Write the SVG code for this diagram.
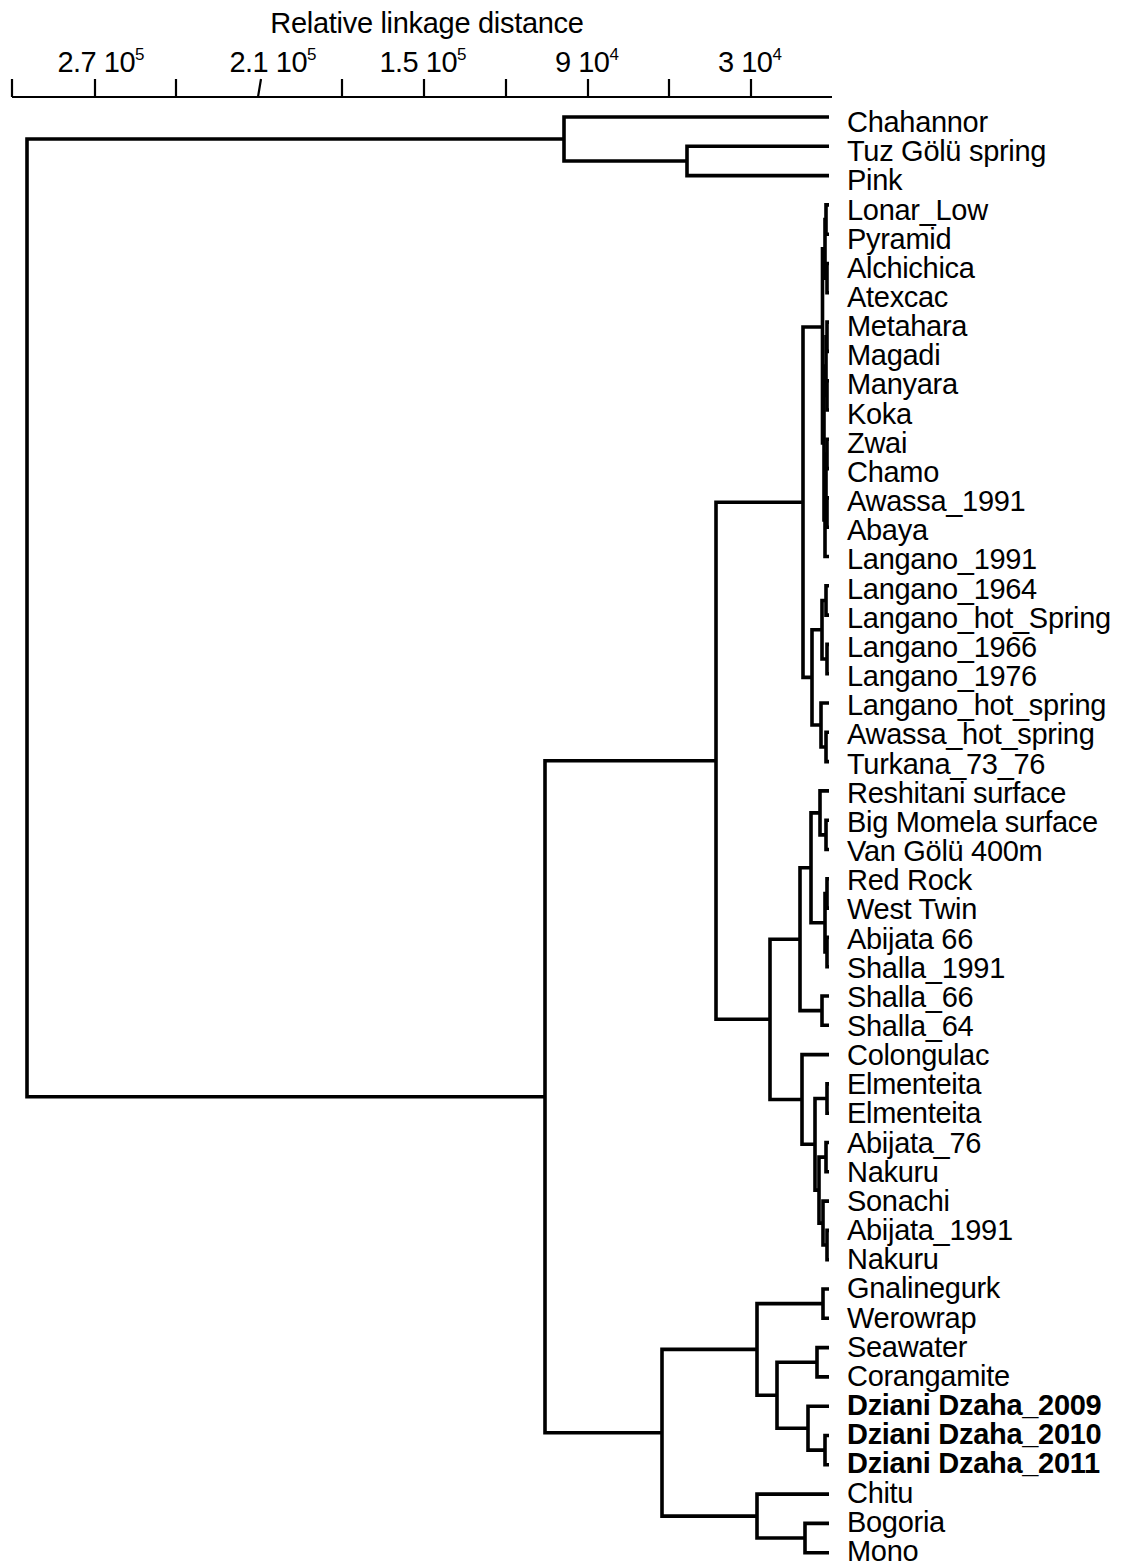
<svg xmlns="http://www.w3.org/2000/svg" width="1131" height="1564" viewBox="0 0 1131 1564">
<style>
text{font-family:"Liberation Sans",Arial,Helvetica,sans-serif;fill:#000}
.lab{font-size:29px;letter-spacing:-0.3px}
.b{font-weight:bold}
.tk{font-size:29px;letter-spacing:-0.5px;text-anchor:middle}
.sup{font-size:17px;letter-spacing:0}
.c path{fill:none;stroke:#000;stroke-width:3.6;stroke-linejoin:miter}
.ax{fill:none;stroke:#000;stroke-width:2.2}
</style>
<rect width="1131" height="1564" fill="#fff"/>
<g id="axis">
<text class="lab" x="427" y="33" text-anchor="middle">Relative linkage distance</text>
<path class="ax" d="M12 97 H832 M12 79 V97 M95 79 V97 M176 79 V97 M261 79 L258 97 M342 79 V97 M424 79 V97 M506 79 V97 M588 79 V97 M669 79 V97 M751 79 V97"/>
<text class="tk" x="101" y="72">2.7 10<tspan class="sup" dy="-12">5</tspan></text>
<text class="tk" x="273" y="72">2.1 10<tspan class="sup" dy="-12">5</tspan></text>
<text class="tk" x="423" y="72">1.5 10<tspan class="sup" dy="-12">5</tspan></text>
<text class="tk" x="587" y="72">9 10<tspan class="sup" dy="-12">4</tspan></text>
<text class="tk" x="750" y="72">3 10<tspan class="sup" dy="-12">4</tspan></text>
</g>
<g id="connectors" class="c">
<path d="M829 146.3 H687 V175.6 H829"/>
<path d="M829 117 H564 V160.95 H687"/>
<path d="M564 139 H27 V1096.75 H545"/>
<path d="M716 760.75 H545 V1432.75 H662"/>
<path d="M803 502.2 H716 V1019.3 H770"/>
<path d="M822.5 327 H803 V677.4 H812"/>
<path d="M825 248.85 H822.5 V442.96 H824"/>
<path d="M826 219.55 H825 V278.15 H827"/>
<path d="M829 204.9 H826 V234.2 H829"/>
<path d="M829 263.5 H827 V292.8 H829"/>
<path d="M826 366.05 H824 V519.875 H825"/>
<path d="M827 336.75 H826 V395.35 H827"/>
<path d="M829 322.1 H827 V351.4 H829"/>
<path d="M829 380.7 H827 V410 H829"/>
<path d="M826 483.25 H825 V556.5 H829"/>
<path d="M827 453.95 H826 V512.55 H827"/>
<path d="M829 439.3 H827 V468.6 H829"/>
<path d="M829 497.9 H827 V527.2 H829"/>
<path d="M822 629.75 H812 V724.98 H821"/>
<path d="M826 600.45 H822 V659.05 H827"/>
<path d="M829 585.8 H826 V615.1 H829"/>
<path d="M829 644.4 H827 V673.7 H829"/>
<path d="M829 703 H821 V746.95 H826"/>
<path d="M829 732.3 H826 V761.6 H829"/>
<path d="M800 939.2 H770 V1099.45 H802"/>
<path d="M811 867.8 H800 V1010.65 H822"/>
<path d="M820 812.9 H811 V922.75 H825"/>
<path d="M829 790.9 H820 V834.85 H826"/>
<path d="M829 820.2 H826 V849.5 H829"/>
<path d="M827 893.45 H825 V952.05 H827"/>
<path d="M829 878.8 H827 V908.1 H829"/>
<path d="M829 937.4 H827 V966.7 H829"/>
<path d="M829 996 H822 V1025.3 H829"/>
<path d="M829 1054.6 H802 V1144.3 H815"/>
<path d="M827 1098.55 H815 V1190.1 H819"/>
<path d="M829 1083.9 H827 V1113.2 H829"/>
<path d="M826 1157.15 H819 V1223.08 H823"/>
<path d="M829 1142.5 H826 V1171.8 H829"/>
<path d="M829 1201.1 H823 V1245.05 H827"/>
<path d="M829 1230.4 H827 V1259.7 H829"/>
<path d="M757 1349.4 H662 V1516.1 H757"/>
<path d="M823 1303.65 H757 V1395.2 H777"/>
<path d="M829 1289 H823 V1318.3 H829"/>
<path d="M817 1362.25 H777 V1428.2 H808"/>
<path d="M829 1347.6 H817 V1376.9 H829"/>
<path d="M829 1406.2 H808 V1450.15 H825"/>
<path d="M829 1435.5 H825 V1464.8 H829"/>
<path d="M829 1494.1 H757 V1538.05 H805"/>
<path d="M829 1523.4 H805 V1552.7 H829"/>
</g>
<g id="leaf-chahannor"><text class="lab" x="847" y="132">Chahannor</text></g>
<g id="leaf-tuz-golu-spring"><text class="lab" x="847" y="161.2">Tuz Gölü spring</text></g>
<g id="leaf-pink"><text class="lab" x="847" y="190.3">Pink</text></g>
<g id="leaf-lonar-low"><text class="lab" x="847" y="219.5">Lonar_Low</text></g>
<g id="leaf-pyramid"><text class="lab" x="847" y="248.6">Pyramid</text></g>
<g id="leaf-alchichica"><text class="lab" x="847" y="277.8">Alchichica</text></g>
<g id="leaf-atexcac"><text class="lab" x="847" y="307">Atexcac</text></g>
<g id="leaf-metahara"><text class="lab" x="847" y="336.1">Metahara</text></g>
<g id="leaf-magadi"><text class="lab" x="847" y="365.3">Magadi</text></g>
<g id="leaf-manyara"><text class="lab" x="847" y="394.4">Manyara</text></g>
<g id="leaf-koka"><text class="lab" x="847" y="423.6">Koka</text></g>
<g id="leaf-zwai"><text class="lab" x="847" y="452.8">Zwai</text></g>
<g id="leaf-chamo"><text class="lab" x="847" y="481.9">Chamo</text></g>
<g id="leaf-awassa-1991"><text class="lab" x="847" y="511.1">Awassa_1991</text></g>
<g id="leaf-abaya"><text class="lab" x="847" y="540.2">Abaya</text></g>
<g id="leaf-langano-1991"><text class="lab" x="847" y="569.4">Langano_1991</text></g>
<g id="leaf-langano-1964"><text class="lab" x="847" y="598.6">Langano_1964</text></g>
<g id="leaf-langano-hot-spring-1"><text class="lab" x="847" y="627.7">Langano_hot_Spring</text></g>
<g id="leaf-langano-1966"><text class="lab" x="847" y="656.9">Langano_1966</text></g>
<g id="leaf-langano-1976"><text class="lab" x="847" y="686">Langano_1976</text></g>
<g id="leaf-langano-hot-spring-2"><text class="lab" x="847" y="715.2">Langano_hot_spring</text></g>
<g id="leaf-awassa-hot-spring"><text class="lab" x="847" y="744.4">Awassa_hot_spring</text></g>
<g id="leaf-turkana"><text class="lab" x="847" y="773.5">Turkana_73_76</text></g>
<g id="leaf-reshitani"><text class="lab" x="847" y="802.7">Reshitani surface</text></g>
<g id="leaf-big-momela"><text class="lab" x="847" y="831.8">Big Momela surface</text></g>
<g id="leaf-van-golu"><text class="lab" x="847" y="861">Van Gölü 400m</text></g>
<g id="leaf-red-rock"><text class="lab" x="847" y="890.2">Red Rock</text></g>
<g id="leaf-west-twin"><text class="lab" x="847" y="919.3">West Twin</text></g>
<g id="leaf-abijata-66"><text class="lab" x="847" y="948.5">Abijata 66</text></g>
<g id="leaf-shalla-1991"><text class="lab" x="847" y="977.6">Shalla_1991</text></g>
<g id="leaf-shalla-66"><text class="lab" x="847" y="1006.8">Shalla_66</text></g>
<g id="leaf-shalla-64"><text class="lab" x="847" y="1036">Shalla_64</text></g>
<g id="leaf-colongulac"><text class="lab" x="847" y="1065.1">Colongulac</text></g>
<g id="leaf-elmenteita-1"><text class="lab" x="847" y="1094.3">Elmenteita</text></g>
<g id="leaf-elmenteita-2"><text class="lab" x="847" y="1123.4">Elmenteita</text></g>
<g id="leaf-abijata-76"><text class="lab" x="847" y="1152.6">Abijata_76</text></g>
<g id="leaf-nakuru-1"><text class="lab" x="847" y="1181.8">Nakuru</text></g>
<g id="leaf-sonachi"><text class="lab" x="847" y="1210.9">Sonachi</text></g>
<g id="leaf-abijata-1991"><text class="lab" x="847" y="1240.1">Abijata_1991</text></g>
<g id="leaf-nakuru-2"><text class="lab" x="847" y="1269.2">Nakuru</text></g>
<g id="leaf-gnalinegurk"><text class="lab" x="847" y="1298.4">Gnalinegurk</text></g>
<g id="leaf-werowrap"><text class="lab" x="847" y="1327.6">Werowrap</text></g>
<g id="leaf-seawater"><text class="lab" x="847" y="1356.7">Seawater</text></g>
<g id="leaf-corangamite"><text class="lab" x="847" y="1385.9">Corangamite</text></g>
<g id="leaf-dziani-2009"><text class="lab b" x="847" y="1415">Dziani Dzaha_2009</text></g>
<g id="leaf-dziani-2010"><text class="lab b" x="847" y="1444.2">Dziani Dzaha_2010</text></g>
<g id="leaf-dziani-2011"><text class="lab b" x="847" y="1473.4">Dziani Dzaha_2011</text></g>
<g id="leaf-chitu"><text class="lab" x="847" y="1502.5">Chitu</text></g>
<g id="leaf-bogoria"><text class="lab" x="847" y="1531.7">Bogoria</text></g>
<g id="leaf-mono"><text class="lab" x="847" y="1560.8">Mono</text></g>
</svg>
